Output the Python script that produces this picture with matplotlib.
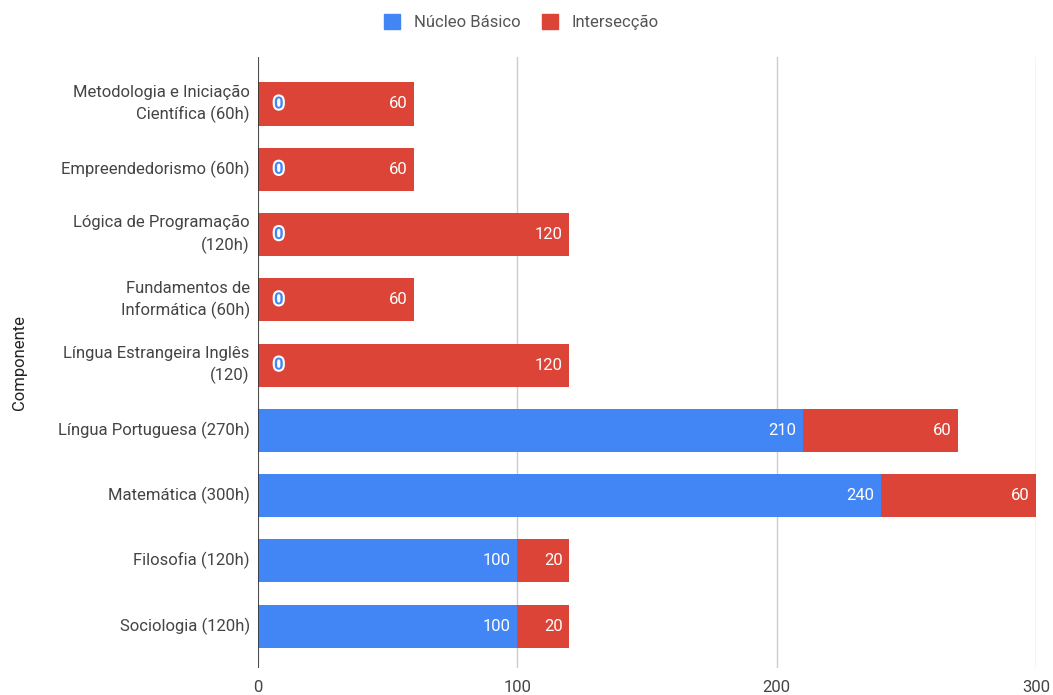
import matplotlib.pyplot as plt
import matplotlib.patheffects as pe
from matplotlib.patches import Patch

plt.rcParams['font.family'] = ['Roboto', 'DejaVu Sans']

componentes = ['Metodologia e Iniciação\nCientífica (60h)', 'Empreendedorismo (60h)',
               'Lógica de Programação\n(120h)', 'Fundamentos de\nInformática (60h)',
               'Língua Estrangeira Inglês\n(120)', 'Língua Portuguesa (270h)',
               'Matemática (300h)', 'Filosofia (120h)', 'Sociologia (120h)']
nucleo_basico = [0, 0, 0, 0, 0, 210, 240, 100, 100]
interseccao = [60, 60, 120, 60, 120, 60, 60, 20, 20]

azul = '#4285F4'
vermelho = '#DB4437'

fig = plt.figure(figsize=(10.53, 6.95), dpi=100)
ax = fig.add_axes([0.245, 0.039, 0.739, 0.879])

y = list(range(len(componentes)))
ax.barh(y, nucleo_basico, height=0.66, color=azul, zorder=2)
ax.barh(y, interseccao, left=nucleo_basico, height=0.66, color=vermelho, zorder=2)

for i in y:
    nb = nucleo_basico[i]
    it = interseccao[i]
    if nb == 0:
        ax.text(8, i, '0', color=azul, fontsize=12, ha='center', va='center', zorder=3,
                fontweight='bold',
                path_effects=[pe.withStroke(linewidth=3, foreground='white')])
    else:
        ax.text(nb - 2.5, i, str(nb), color='white', fontsize=12, ha='right', va='center', zorder=3)
    ax.text(nb + it - 2.5, i, str(it), color='white', fontsize=12, ha='right', va='center', zorder=3)

ax.set_xlim(0, 300)
ax.set_ylim(8.64, -0.72)
ax.set_xticks([0, 100, 200, 300])
ax.set_yticks(y)
ax.set_yticklabels(componentes, ha='right', va='center', multialignment='right', linespacing=1.45)
ax.tick_params(axis='both', length=0, labelsize=12, labelcolor='#444444')
ax.tick_params(axis='x', pad=9)
ax.tick_params(axis='y', pad=6)
ax.grid(axis='x', color='#cccccc', linewidth=1, zorder=0)
ax.axvline(0, color='#333333', linewidth=1.2, zorder=4)
for s in ax.spines.values():
    s.set_visible(False)

ax.set_ylabel('Componente', fontsize=12, color='#222222')
ax.yaxis.set_label_coords(-0.297, 0.5)

handles = [Patch(color=azul, label='Núcleo Básico'), Patch(color=vermelho, label='Intersecção')]
fig.legend(handles=handles, loc='center', bbox_to_anchor=(0.495, 0.968), ncol=2, frameon=False,
           fontsize=12, handlelength=1.0, handleheight=1.0, columnspacing=1.3, handletextpad=0.8,
           labelcolor='#555555')

fig.savefig('out.png', dpi=100)
